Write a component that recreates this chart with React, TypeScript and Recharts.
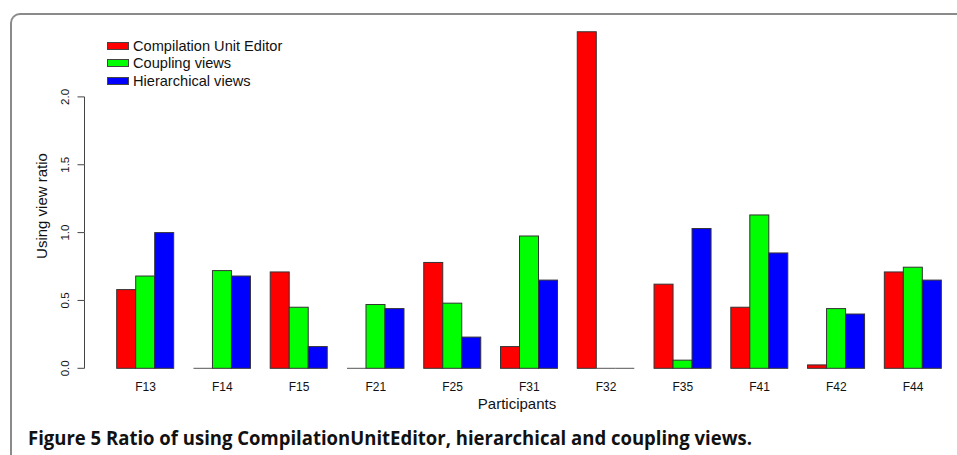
import { BarChart, Bar, XAxis, YAxis, Legend, Label } from 'recharts'

const participants = ['F13', 'F14', 'F15', 'F21', 'F25', 'F31', 'F32', 'F35', 'F41', 'F42', 'F44']
const compilationUnitEditor = [0.58, 0, 0.71, 0, 0.78, 0.16, 2.48, 0.62, 0.45, 0.025, 0.71]
const couplingViews = [0.68, 0.72, 0.45, 0.47, 0.48, 0.975, 0, 0.06, 1.13, 0.44, 0.745]
const hierarchicalViews = [1.0, 0.68, 0.16, 0.44, 0.23, 0.65, 0, 1.03, 0.85, 0.4, 0.65]
const yTicks = [0, 0.5, 1, 1.5, 2]

const data = participants.map((p, i) => ({
  name: p,
  cue: compilationUnitEditor[i],
  coupling: couplingViews[i],
  hier: hierarchicalViews[i],
}))

const W = 957
const H = 455
const TOP = 29.05
const BOTTOM = 86.7
const Y_MAX = 2.5
const PX_PER_UNIT = (H - TOP - BOTTOM) / Y_MAX
const AXIS_X = 84.5
const FONT = '"Liberation Sans", Arial, sans-serif'

function BarShape(props: any) {
  const { x, y, width, height, fill } = props
  if (!height || height < 0.5) {
    return <line x1={x} x2={x + width} y1={y} y2={y} stroke="#555" strokeWidth={1} />
  }
  return <rect x={x} y={y} width={width} height={height} fill={fill} stroke="#333" strokeWidth={1} />
}

function XTick({ x, y, payload }: any) {
  return (
    <text x={x} y={y + 18.4} textAnchor="middle" dominantBaseline="central" fontSize={12} fontFamily={FONT} fill="#111">
      {payload.value}
    </text>
  )
}

function YTick({ y, payload }: any) {
  const v = payload.value
  return (
    <g>
      <line x1={AXIS_X - 7} x2={AXIS_X} y1={y} y2={y} stroke="#444" />
      {v < 2 && <line x1={AXIS_X} x2={AXIS_X} y1={y} y2={y - 0.5 * PX_PER_UNIT} stroke="#444" />}
      <text
        x={65}
        y={y}
        transform={`rotate(-90, 65, ${y})`}
        textAnchor="middle"
        dominantBaseline="central"
        fontSize={11.5}
        fontFamily={FONT}
        fill="#111"
      >
        {v.toFixed(1)}
      </text>
    </g>
  )
}

function LegendBox({ payload }: any) {
  return (
    <div style={{ fontFamily: FONT, fontSize: 14.6, color: '#111' }}>
      {payload.map((e: any) => (
        <div key={e.value} style={{ display: 'flex', alignItems: 'center', height: 17.6 }}>
          <span style={{ display: 'inline-block', width: 20, height: 6, background: e.color, border: '1px solid #444', marginRight: 4 }} />
          <span>{e.value}</span>
        </div>
      ))}
    </div>
  )
}

export default function App() {
  return (
    <div style={{ position: 'absolute', left: 0, top: 0, width: W, height: H, overflow: 'hidden', background: '#fff' }}>
      <div
        style={{
          position: 'absolute',
          left: 10,
          top: 13,
          width: 1000,
          height: 500,
          borderTop: '2px solid #8a8a8a',
          borderLeft: '2px solid #8a8a8a',
          borderTopLeftRadius: 10,
        }}
      />
      <div style={{ position: 'absolute', left: 0, top: 0 }}>
        <BarChart
          width={W}
          height={H}
          data={data}
          margin={{ top: TOP, right: 5.5, bottom: BOTTOM - 30, left: 107.1 - 60 }}
          barCategoryGap="12.5%"
          barGap={0}
        >
          <XAxis dataKey="name" axisLine={false} tickLine={false} tickSize={0} tickMargin={0} height={30} tick={<XTick />} interval={0}>
            <Label
              content={() => (
                <text x={517} y={403.5} textAnchor="middle" dominantBaseline="central" fontSize={15} fontFamily={FONT} fill="#111">
                  Participants
                </text>
              )}
            />
          </XAxis>
          <YAxis
            domain={[0, Y_MAX]}
            ticks={yTicks}
            width={60}
            axisLine={false}
            tickLine={false}
            tick={<YTick />}
          >
            <Label
              content={() => (
                <text
                  x={41}
                  y={206}
                  transform="rotate(-90, 41, 206)"
                  textAnchor="middle"
                  dominantBaseline="central"
                  fontSize={15}
                  fontFamily={FONT}
                  fill="#111"
                >
                  Using view ratio
                </text>
              )}
            />
          </YAxis>
          <Legend
            layout="horizontal"
            verticalAlign="middle"
            align="center"
            content={<LegendBox />}
            wrapperStyle={{ left: 107, top: 37, width: 'auto' }}
          />
          <Bar dataKey="cue" name="Compilation Unit Editor" fill="#ff0000" shape={<BarShape />} isAnimationActive={false} />
          <Bar dataKey="coupling" name="Coupling views" fill="#00ff00" shape={<BarShape />} isAnimationActive={false} />
          <Bar dataKey="hier" name="Hierarchical views" fill="#0000ff" shape={<BarShape />} isAnimationActive={false} />
        </BarChart>
      </div>
      <svg style={{ position: 'absolute', left: 0, top: 0 }} width={W} height={H}>
        <text
          x={28}
          y={445}
          fontSize={20}
          fontWeight="bold"
          fontFamily='"Open Sans", sans-serif'
          fill="#111"
          textLength={724}
          lengthAdjust="spacingAndGlyphs"
        >
          Figure 5 Ratio of using CompilationUnitEditor, hierarchical and coupling views.
        </text>
      </svg>
    </div>
  )
}
